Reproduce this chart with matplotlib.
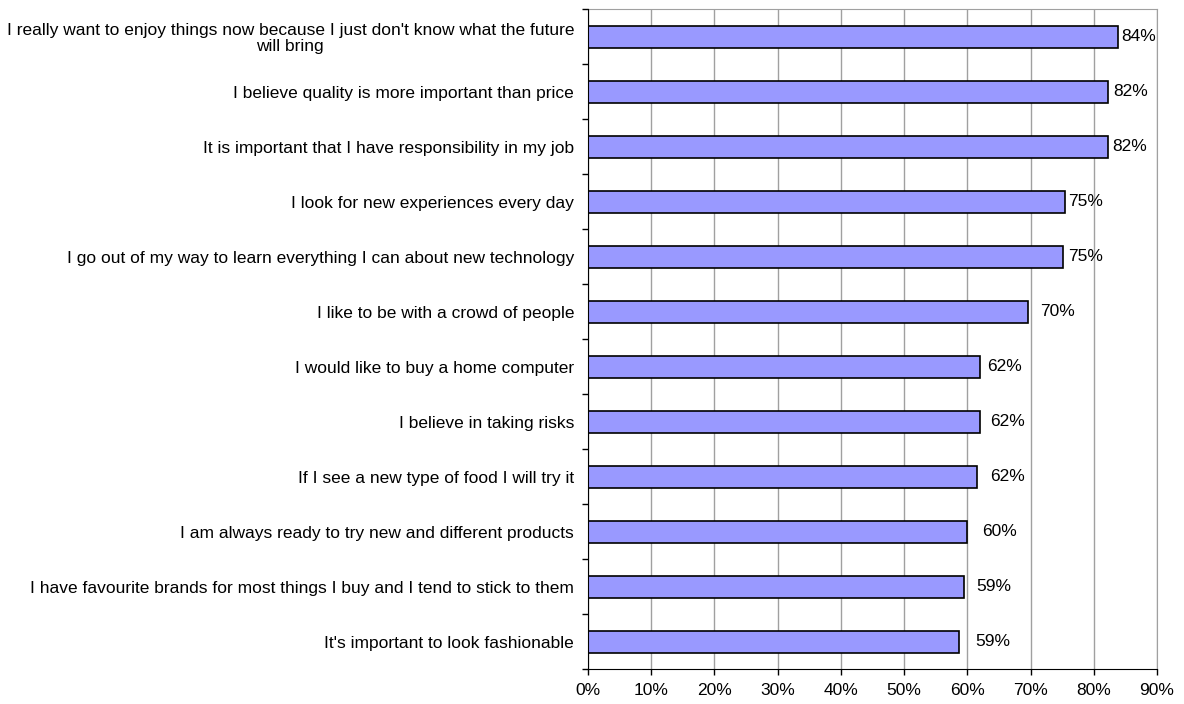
import matplotlib
matplotlib.use('Agg')
import matplotlib.pyplot as plt
import numpy as np

# --- data (top to bottom as shown) ---
statements = [
    "I really want to enjoy things now because I just don't know what the future\nwill bring",
    "I believe quality is more important than price",
    "It is important that I have responsibility in my job",
    "I look for new experiences every day",
    "I go out of my way to learn everything I can about new technology",
    "I like to be with a crowd of people",
    "I would like to buy a home computer",
    "I believe in taking risks",
    "If I see a new type of food I will try it",
    "I am always ready to try new and different products",
    "I have favourite brands for most things I buy and I tend to stick to them",
    "It's important to look fashionable",
]
values = [83.9, 82.3, 82.2, 75.4, 75.2, 69.6, 62.0, 62.0, 61.6, 60.0, 59.5, 58.7]
value_labels = ['84%', '82%', '82%', '75%', '75%', '70%',
                '62%', '62%', '62%', '60%', '59%', '59%']
x_ticks = [0, 10, 20, 30, 40, 50, 60, 70, 80, 90]

# label gap from bar end, in points (labels sit a bit unevenly in the original)
label_gap = [2, 3.6, 3.6, 2.4, 3.3, 9, 5.5, 7.2, 8.8, 11, 8.4, 11.8]

FS = 12.5
plt.rcParams['font.family'] = ['Liberation Sans', 'DejaVu Sans']

fig = plt.figure(figsize=(11.84, 7.04), dpi=100)
ax = fig.add_axes([0.4966, 0.0497, 0.9772 - 0.4966, 0.9872 - 0.0497])

n = len(statements)
y = np.arange(n)
ax.barh(y, values, height=0.4, color='#9999FF', edgecolor='black',
        linewidth=1.2, zorder=3)

for yi, v, lab, gap in zip(y, values, value_labels, label_gap):
    ax.annotate(lab, xy=(v, yi), xytext=(gap, 0), textcoords='offset points',
                ha='left', va='center', fontsize=FS, color='black', zorder=4)

ax.set_xlim(0, 90)
ax.set_ylim(n - 0.5, -0.5)

ax.set_xticks(x_ticks)
ax.set_xticklabels([f'{t}%' for t in x_ticks], fontsize=FS)
ax.tick_params(axis='x', direction='out', length=4, width=1, pad=6)

ax.set_yticks(y)
ax.set_yticklabels(statements, fontsize=FS)
ax.set_yticks(np.arange(-0.5, n, 1), minor=True)
ax.tick_params(axis='y', which='major', length=0, pad=10)
ax.tick_params(axis='y', which='minor', direction='out', length=4, width=1)
first = ax.get_yticklabels()[0]
first.set_multialignment('center')
first.set_linespacing(1.1)

ax.grid(axis='x', color='#A0A0A0', linewidth=1, zorder=0)
ax.set_axisbelow(True)

for side in ['top', 'right']:
    ax.spines[side].set_color('#A0A0A0')
for side in ['left', 'bottom']:
    ax.spines[side].set_color('black')
    ax.spines[side].set_zorder(5)

fig.savefig('out.png', dpi=100)
